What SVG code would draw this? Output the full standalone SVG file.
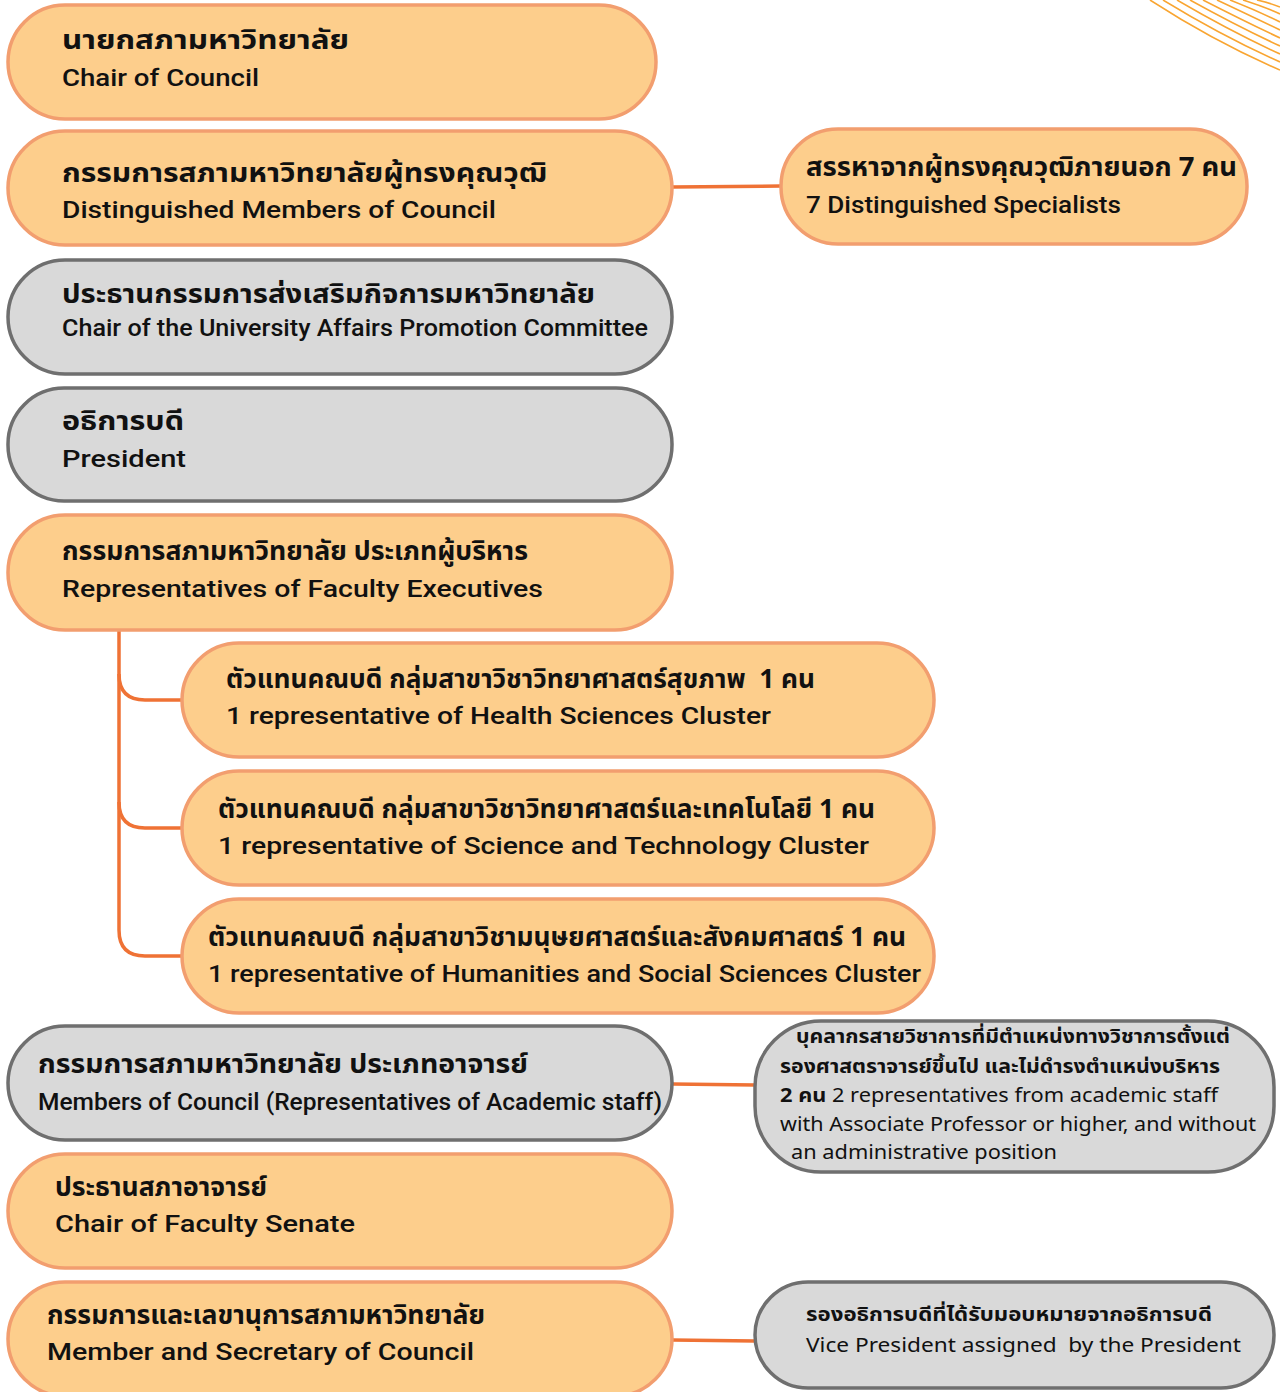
<svg xmlns="http://www.w3.org/2000/svg" width="1280" height="1392" viewBox="0 0 1280 1392">
<style>
.o{fill:#FDCE8C;stroke:#F29E6F;stroke-width:3.5}
.g{fill:#D9D9D9;stroke:#6F6F6F;stroke-width:3.5}
.c{fill:none;stroke:#EF7235;stroke-width:3.5}
.deco{fill:none;stroke:#F9A531;stroke-width:1.6}
text{font-family:"Noto Sans Thai","Noto Sans","Liberation Sans",sans-serif;fill:#111}
.t{font-weight:700;font-size:26px}
.e{font-family:Roboto,"Noto Sans Thai","Noto Sans",sans-serif;font-weight:500;font-size:23px}
.s{font-size:19px}
.sb{font-size:19px;font-weight:700}
</style>
<rect width="1280" height="1392" fill="#fff"/>
<g id="decoration">
<path class="deco" d="M1150,0 Q1215,42 1280,70" stroke-width="1"/>
<path class="deco" d="M1163,0 Q1222,36 1280,62"/>
<path class="deco" d="M1177,0 Q1230,31 1280,54"/>
<path class="deco" d="M1190,0 Q1237,26 1280,46"/>
<path class="deco" d="M1203,0 Q1244,21 1280,38"/>
<path class="deco" d="M1217,0 Q1251,16 1280,30"/>
<path class="deco" d="M1230,0 Q1258,11 1280,22"/>
<path class="deco" d="M1243,0 Q1265,7 1280,14"/>
<path class="deco" d="M1257,0 Q1270,3 1280,7"/>
</g>
<g id="connectors">
<path class="c" d="M672,187 L781,186"/>
<path class="c" d="M119,630 L119,930 Q119,956 145,956 L182,956"/>
<path class="c" d="M119,674 Q119,700 145,700 L182,700"/>
<path class="c" d="M119,802 Q119,828 145,828 L182,828"/>
<path class="c" d="M672,1084 L755,1085"/>
<path class="c" d="M672,1340 L755,1341"/>
</g>
<g id="n1"><rect class="o" x="8" y="5" width="648" height="114" rx="57"/>
<text class="t" x="62" y="49" textLength="287" lengthAdjust="spacingAndGlyphs">นายกสภามหาวิทยาลัย</text>
<text class="e" x="62" y="86" textLength="197" lengthAdjust="spacingAndGlyphs">Chair of Council</text></g>
<g id="n2"><rect class="o" x="8" y="131" width="664" height="114" rx="57"/>
<text class="t" x="62" y="182" textLength="485" lengthAdjust="spacingAndGlyphs">กรรมการสภามหาวิทยาลัยผู้ทรงคุณวุฒิ</text>
<text class="e" x="62" y="218" textLength="434" lengthAdjust="spacingAndGlyphs">Distinguished Members of Council</text></g>
<g id="n3"><rect class="g" x="8" y="260" width="664" height="114" rx="57"/>
<text class="t" x="62" y="303" textLength="533" lengthAdjust="spacingAndGlyphs">ประธานกรรมการส่งเสริมกิจการมหาวิทยาลัย</text>
<text class="e" x="62" y="336" font-size="21" textLength="586" lengthAdjust="spacingAndGlyphs">Chair of the University Affairs Promotion Committee</text></g>
<g id="n4"><rect class="g" x="8" y="388" width="664" height="113" rx="56"/>
<text class="t" x="62" y="430" textLength="122" lengthAdjust="spacingAndGlyphs">อธิการบดี</text>
<text class="e" x="62" y="467" textLength="124" lengthAdjust="spacingAndGlyphs">President</text></g>
<g id="n5"><rect class="o" x="8" y="515" width="664" height="115" rx="57"/>
<text class="t" x="62" y="560" font-size="24" textLength="466" lengthAdjust="spacingAndGlyphs">กรรมการสภามหาวิทยาลัย ประเภทผู้บริหาร</text>
<text class="e" x="62" y="597" textLength="481" lengthAdjust="spacingAndGlyphs">Representatives of Faculty Executives</text></g>
<g id="n6"><rect class="o" x="182" y="643" width="752" height="114" rx="57"/>
<text class="t" x="226" y="688" font-size="24" textLength="589" lengthAdjust="spacingAndGlyphs" xml:space="preserve">ตัวแทนคณบดี กลุ่มสาขาวิชาวิทยาศาสตร์สุขภาพ  1 คน</text>
<text class="e" x="226" y="724" textLength="545" lengthAdjust="spacingAndGlyphs">1 representative of Health Sciences Cluster</text></g>
<g id="n7"><rect class="o" x="182" y="771" width="752" height="114" rx="57"/>
<text class="t" x="218" y="818" font-size="24" textLength="657" lengthAdjust="spacingAndGlyphs">ตัวแทนคณบดี กลุ่มสาขาวิชาวิทยาศาสตร์และเทคโนโลยี 1 คน</text>
<text class="e" x="218" y="854" textLength="651" lengthAdjust="spacingAndGlyphs">1 representative of Science and Technology Cluster</text></g>
<g id="n8"><rect class="o" x="182" y="899" width="752" height="114" rx="57"/>
<text class="t" x="208" y="946" font-size="24" textLength="698" lengthAdjust="spacingAndGlyphs">ตัวแทนคณบดี กลุ่มสาขาวิชามนุษยศาสตร์และสังคมศาสตร์ 1 คน</text>
<text class="e" x="208" y="982" textLength="713" lengthAdjust="spacingAndGlyphs">1 representative of Humanities and Social Sciences Cluster</text></g>
<g id="n9"><rect class="g" x="8" y="1026" width="664" height="114" rx="57"/>
<text class="t" x="38" y="1073" textLength="490" lengthAdjust="spacingAndGlyphs">กรรมการสภามหาวิทยาลัย ประเภทอาจารย์</text>
<text class="e" x="38" y="1110" font-size="22" textLength="624" lengthAdjust="spacingAndGlyphs">Members of Council (Representatives of Academic staff)</text></g>
<g id="n10"><rect class="o" x="8" y="1154" width="664" height="114" rx="57"/>
<text class="t" x="55" y="1196" font-size="24" textLength="212" lengthAdjust="spacingAndGlyphs">ประธานสภาอาจารย์</text>
<text class="e" x="55" y="1232" textLength="300" lengthAdjust="spacingAndGlyphs">Chair of Faculty Senate</text></g>
<g id="n11"><rect class="o" x="8" y="1282" width="664" height="114" rx="57"/>
<text class="t" x="47" y="1324" font-size="24" textLength="438" lengthAdjust="spacingAndGlyphs">กรรมการและเลขานุการสภามหาวิทยาลัย</text>
<text class="e" x="47" y="1360" textLength="427" lengthAdjust="spacingAndGlyphs">Member and Secretary of Council</text></g>
<g id="r1"><rect class="o" x="781" y="129" width="466" height="115" rx="57"/>
<text class="t" x="806" y="176" font-size="25" textLength="431" lengthAdjust="spacingAndGlyphs">สรรหาจากผู้ทรงคุณวุฒิภายนอก 7 คน</text>
<text class="e" x="806" y="213" textLength="315" lengthAdjust="spacingAndGlyphs">7 Distinguished Specialists</text></g>
<g id="r2"><rect class="g" x="755" y="1021" width="519" height="151" rx="66"/>
<text class="sb" x="796" y="1043" textLength="434" lengthAdjust="spacingAndGlyphs">บุคลากรสายวิชาการที่มีตำแหน่งทางวิชาการตั้งแต่</text>
<text class="sb" x="780" y="1073" textLength="440" lengthAdjust="spacingAndGlyphs">รองศาสตราจารย์ขึ้นไป และไม่ดำรงตำแหน่งบริหาร</text>
<text class="s" x="780" y="1102" textLength="438" lengthAdjust="spacingAndGlyphs"><tspan font-weight="700">2 คน</tspan> 2 representatives from academic staff</text>
<text class="s" x="780" y="1131" textLength="476" lengthAdjust="spacingAndGlyphs">with Associate Professor or higher, and without</text>
<text class="s" x="791" y="1159" textLength="266" lengthAdjust="spacingAndGlyphs">an administrative position</text></g>
<g id="r3"><rect class="g" x="755" y="1282" width="519" height="106" rx="53"/>
<text class="sb" x="806" y="1321" font-size="20" textLength="406" lengthAdjust="spacingAndGlyphs">รองอธิการบดีที่ได้รับมอบหมายจากอธิการบดี</text>
<text class="s" x="806" y="1352" font-size="20" textLength="435" lengthAdjust="spacingAndGlyphs" xml:space="preserve">Vice President assigned  by the President</text></g>
</svg>
